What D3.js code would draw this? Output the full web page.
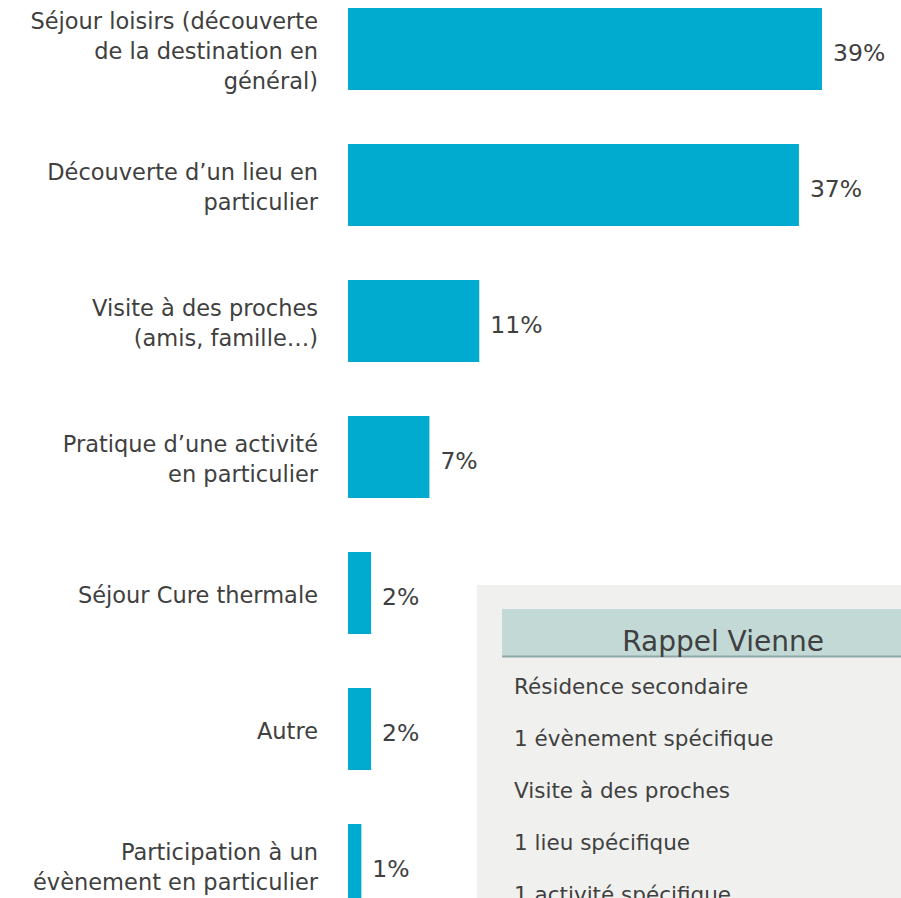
<!DOCTYPE html>
<html>
<head>
<meta charset="utf-8">
<script src="https://cdnjs.cloudflare.com/ajax/libs/d3/7.8.5/d3.min.js"></script>
<style>
  body { margin: 0; background: #fff; }
  svg { display: block; font-family: "DejaVu Sans", sans-serif; }
</style>
</head>
<body>
<div id="chart"></div>
<script>
const width = 901
const height = 898

// data
const categories = [
    "Séjour loisirs (découverte\nde la destination en\ngénéral)",
    "Découverte d’un lieu en\nparticulier",
    "Visite à des proches\n(amis, famille…)",
    "Pratique d’une activité\nen particulier",
    "Séjour Cure thermale",
    "Autre",
    "Participation à un\névènement en particulier"
]
const values = [39, 37.1, 10.8, 6.7, 1.9, 1.9, 1.1]
const valueLabels = ["39%", "37%", "11%", "7%", "2%", "2%", "1%"]

const boxTitle = "Rappel Vienne"
const boxItems = [
    "Résidence secondaire",
    "1 évènement spécifique",
    "Visite à des proches",
    "1 lieu spécifique",
    "1 activité spécifique"
]

const barColor = "#00abcf"
const textColor = "#404040"

const svg = d3.select("#chart").append("svg")
    .attr("width", width)
    .attr("height", height)

const x = d3.scaleLinear()
    .domain([0, 39])
    .range([348, 822])

const y = d3.scaleBand()
    .domain(categories)
    .range([-19, -19 + 7 * 136])
    .paddingInner(0.397)
    .paddingOuter(0.1985)

svg.selectAll("rect.bar")
    .data(categories)
    .enter()
    .append("rect")
    .attr("class", "bar")
    .attr("x", x(0))
    .attr("y", d => y(d))
    .attr("width", (d, i) => x(values[i]) - x(0))
    .attr("height", y.bandwidth())
    .attr("fill", barColor)

// category labels, wrapped on \n
const lineH = 30
svg.selectAll("text.cat")
    .data(categories)
    .enter()
    .append("text")
    .attr("class", "cat")
    .attr("text-anchor", "end")
    .attr("fill", textColor)
    .style("font-size", "22.5px")
    .each(function (d) {
        const lines = d.split("\n")
        const cy = y(d) + y.bandwidth() / 2
        const top = cy - (lines.length - 1) * lineH / 2
        d3.select(this).selectAll("tspan")
            .data(lines)
            .enter()
            .append("tspan")
            .attr("x", 318)
            .attr("y", (l, j) => top + j * lineH)
            .attr("dy", "0.46em")
            .text(l => l)
    })

svg.selectAll("text.val")
    .data(categories)
    .enter()
    .append("text")
    .attr("class", "val")
    .attr("x", (d, i) => x(values[i]) + 11)
    .attr("y", d => y(d) + y.bandwidth() / 2)
    .attr("dy", "0.52em")
    .attr("fill", textColor)
    .style("font-size", "23.5px")
    .text((d, i) => valueLabels[i])

// reminder box
const box = svg.append("g")
box.append("rect")
    .attr("x", 477).attr("y", 585)
    .attr("width", width - 477).attr("height", height - 585)
    .attr("fill", "#f0f1ef")
box.append("rect")
    .attr("x", 502).attr("y", 609)
    .attr("width", width - 502).attr("height", 47)
    .attr("fill", "#c2d9d6")
box.append("line")
    .attr("x1", 502).attr("x2", width)
    .attr("y1", 656.5).attr("y2", 656.5)
    .attr("stroke", "#8fa9a6")
    .attr("stroke-width", 2)
box.append("text")
    .attr("x", 723).attr("y", 640)
    .attr("dy", "0.38em")
    .attr("text-anchor", "middle")
    .attr("fill", textColor)
    .style("font-size", "28px")
    .text(boxTitle)
box.selectAll("text.item")
    .data(boxItems)
    .enter()
    .append("text")
    .attr("class", "item")
    .attr("x", 514)
    .attr("y", (d, i) => 686 + i * 52)
    .attr("dy", "0.38em")
    .attr("fill", textColor)
    .style("font-size", "21.5px")
    .text(d => d)
</script>
</body>
</html>
